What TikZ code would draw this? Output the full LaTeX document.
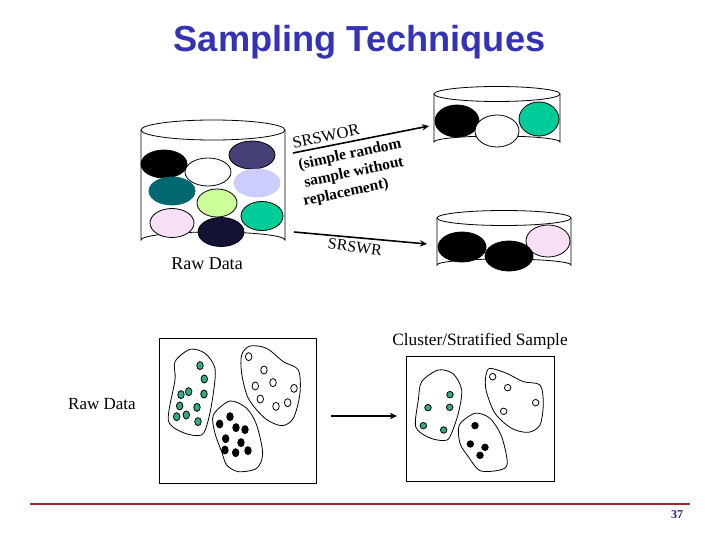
\documentclass[tikz,border=0pt]{standalone}
\usepackage{fontspec}
\setmainfont{Liberation Serif}
\setsansfont{Liberation Sans}
\usetikzlibrary{positioning,arrows.meta,shapes.geometric}
\definecolor{titleblue}{RGB}{51,51,179}
\definecolor{rulered}{RGB}{170,36,48}
\definecolor{pageblue}{RGB}{40,40,120}
\definecolor{darkpurple}{RGB}{70,64,120}
\definecolor{lavender}{RGB}{204,204,255}
\definecolor{deepteal}{RGB}{0,102,112}
\definecolor{lime}{RGB}{204,255,153}
\definecolor{seagreen}{RGB}{0,204,153}
\definecolor{palepink}{RGB}{245,224,245}
\definecolor{navyblack}{RGB}{18,18,51}
\definecolor{dotgreen}{RGB}{51,170,135}
\tikzset{
	%Styles of the picture
	ball/.style = {ellipse, draw=black, inner sep=0pt,
                           minimum width=46pt, minimum height=28pt},
	smallball/.style = {ball, minimum width=44pt, minimum height=32pt},
	caption/.style = {font=\fontsize{17.3}{17}\selectfont, inner sep=0pt},
	skew/.style = {font=\fontsize{15.5}{15}\selectfont\bfseries, inner sep=0pt},
	dot/.style = {ellipse, draw=black, inner sep=0pt, line width=.8pt,
                           minimum width=6.5pt, minimum height=8pt},
	rounddot/.style = {dot, minimum width=6.5pt, minimum height=6.5pt},
	arrow/.style = {-{Stealth[length=7pt,width=6.5pt]}, line width=1.6pt},
	blob/.style = {draw=black, line width=.8pt}
}
\begin{document}
\begin{tikzpicture}[x=1pt,y=-1pt,line width=.8pt]
	\useasboundingbox (0,0) rectangle (720,540);
	\node (title) [font=\fontsize{36.2}{36}\selectfont\sffamily\bfseries, text=titleblue] at (359.5,42) {Sampling Techniques};

	% big cylinder
	\draw (141,130) -- (141,240) arc[start angle=180, end angle=360, x radius=72, y radius=8] -- (285,130);
	\draw (213,130) ellipse[x radius=72, y radius=10];
	\node (bblack) [ball, fill=black]       at (164,164) {};
	\node (bwhite) [ball, fill=white]       at (208,172) {};
	\node (bpurple) [ball, fill=darkpurple] at (252,155) {};
	\node (blav) [ball, fill=lavender, draw=lavender] at (257,183) {};
	\node (bteal) [ball, fill=deepteal, draw=deepteal] at (172,191) {};
	\node (blime) [ball, fill=lime, minimum width=40pt] at (217,203) {};
	\node (bgreen) [ball, fill=seagreen, minimum width=42pt, minimum height=29pt] at (262,216) {};
	\node (bpink) [ball, fill=palepink, minimum width=44pt, minimum height=29pt] at (172,223) {};
	\node (bnavy) [ball, fill=navyblack, minimum height=29pt] at (221,232) {};
	\node (raw1) [caption, font=\fontsize{18}{18}\selectfont] at (207,264) {Raw Data};

	% SRSWOR cylinder
	\draw (434,94) -- (434,142) arc[start angle=180, end angle=360, x radius=63, y radius=6] -- (560,94);
	\draw (497,94) ellipse[x radius=63, y radius=7.5];
	\node (uno) [smallball, fill=black]      at (457,121) {};
	\node (dos) [smallball, fill=white]      at (497,131) {};
	\node (tres) [smallball, fill=seagreen, minimum width=40pt, minimum height=34pt] at (539,119) {};

	% SRSWR cylinder
	\draw (437,218) -- (437,265) arc[start angle=180, end angle=360, x radius=67, y radius=6] -- (571,218);
	\draw (504,218) ellipse[x radius=67, y radius=7.5];
	\node (cua) [smallball, fill=black, minimum width=48pt, minimum height=30pt] at (462,247) {};
	\node (sis) [smallball, fill=palepink]   at (548,241) {};
	\node (cin) [smallball, fill=black, minimum width=48pt, minimum height=30pt] at (509,256) {};

	% sampling arrows
	\coordinate (worfrom) at (293,153);
	\coordinate (worto) at (429,126);
	\coordinate (wrfrom) at (294,232);
	\coordinate (wrto) at (427,244);
	\draw[arrow] (worfrom) -- (worto);
	\draw[arrow] (wrfrom) -- (wrto);
	\node (wor) [skew, font=\fontsize{16.5}{16}\selectfont, rotate=12] at (326,136.5) {SRSWOR};
	\node (simple) [skew, rotate=12] at (350,155) {(simple random};
	\node (without) [skew, rotate=12] at (354,173) {sample without};
	\node (repl) [skew, rotate=12] at (346,193) {replacement)};
	\node (wr) [skew, font=\fontsize{16}{16}\selectfont, rotate=-7] at (355,247) {SRSWR};

	\node (cluster) [caption] at (480,341) {Cluster/Stratified Sample};
	\node (raw2) [caption, font=\fontsize{17}{17}\selectfont] at (102,404) {Raw Data};

	% raw data box, in 1/3 units
	\begin{scope}[shift={(150,330)},x=.3333pt,y=-.3333pt]
		\node (rawbox) [draw=black, minimum width=157.3pt, minimum height=145pt, inner sep=0pt] at (264,242.5) {};
		\draw[blob] plot[smooth cycle] coordinates {(120,58) (165,70) (195,115) (190,190) (175,270) (155,315) (100,308) (55,270) (75,150) (75,95)};
		\draw[blob] plot[smooth cycle] coordinates {(300,48) (350,55) (400,95) (445,120) (450,190) (430,265) (395,287) (345,265) (295,205) (275,130) (275,75)};
		\draw[blob] plot[smooth cycle] coordinates {(240,213) (290,235) (320,285) (338,370) (320,415) (265,425) (230,405) (215,365) (195,310) (190,255)};
		\foreach \i/\a/\b in {1/150/107,2/163/147,3/162/192,4/116/185,5/93/194,6/89/228,7/141/232,8/80/260,9/109/255,10/144/275}
			\node (ga\i) [dot, fill=dotgreen] at (\a,\b) {};
		\foreach \i/\a/\b in {1/296/80,2/342/120,3/369/158,4/316/168,5/432/175,6/331/207,7/413/218,8/378/229}
			\node (wa\i) [dot, fill=white] at (\a,\b) {};
		\foreach \i/\a/\b in {1/240/260,2/209/282,3/258/293,4/285/299,5/227/326,6/273/338,7/225/360,8/257/368,9/294/362}
			\node (ka\i) [dot, fill=black] at (\a,\b) {};
	\end{scope}

	% sample box, in 1/3 units
	\begin{scope}[shift={(400,350)},x=.3333pt,y=-.3333pt]
		\node (samplebox) [draw=black, minimum width=147.3pt, minimum height=124.3pt, inner sep=0pt] at (241,206.5) {};
		\draw[blob] plot[smooth cycle] coordinates {(115,60) (160,72) (185,120) (175,190) (150,260) (130,272) (85,262) (47,230) (55,150) (65,95)};
		\draw[blob] plot[smooth cycle] coordinates {(270,55) (320,70) (370,95) (420,105) (430,160) (420,225) (385,247) (335,235) (285,190) (258,120) (258,75)};
		\draw[blob] plot[smooth cycle] coordinates {(225,190) (270,205) (305,260) (322,340) (300,360) (240,362) (205,320) (180,280) (178,225)};
		\foreach \i/\a/\b in {1/150/134,2/149/172,3/84/173,4/70/227,5/131/240}
			\node (gb\i) [rounddot, fill=dotgreen] at (\a,\b) {};
		\foreach \i/\a/\b in {1/278/80,2/323/113,3/407/158,4/311/184}
			\node (wb\i) [rounddot, fill=white] at (\a,\b) {};
		\foreach \i/\a/\b in {1/225/227,2/211/282,3/255/292,4/240/316}
			\node (kb\i) [rounddot, fill=black] at (\a,\b) {};
	\end{scope}

	\coordinate (stratfrom) at (331,416);
	\coordinate (stratto) at (397,416);
	\draw[arrow, line width=1.4pt] (stratfrom) -- (stratto);

	\coordinate (rulefrom) at (30,503.5);
	\coordinate (ruleto) at (690,503.5);
	\draw[rulered, line width=2pt] (rulefrom) -- (ruleto);
	\node (page) [font=\fontsize{12}{12}\selectfont\bfseries, text=pageblue] at (677,514.5) {37};
\end{tikzpicture}
\end{document}
